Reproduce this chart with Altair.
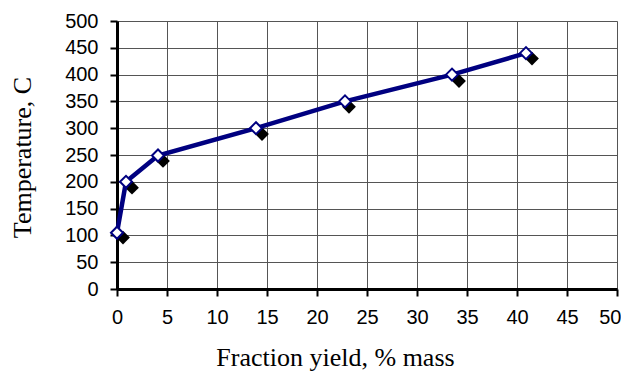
import altair as alt
import pandas as pd

# calculated / line series (white diamonds)
x_line = [0.0, 0.9, 4.1, 13.9, 22.8, 33.5, 40.9]
y_line = [105, 200, 249, 300, 350, 400, 440]
# experimental series (black diamonds)
x_exp = [0.6, 1.5, 4.6, 14.5, 23.2, 34.2, 41.5]
y_exp = [96, 189, 239, 289, 340, 388, 430]

x_ticks = list(range(0, 51, 5))
y_ticks = list(range(0, 501, 50))

df_line = pd.DataFrame({"x": x_line, "y": y_line})
df_exp = pd.DataFrame({"x": x_exp, "y": y_exp})

xs = alt.Scale(domain=[0, 50], nice=False, zero=False)
ys = alt.Scale(domain=[0, 500], nice=False, zero=False)

common = dict(
    grid=True, gridColor="#555555", gridWidth=1, gridOpacity=1,
    domainColor="black", domainWidth=3, tickColor="black", tickWidth=2,
    tickSize=7, labelFont="Liberation Sans", labelFontSize=20, labelColor="black",
    labelOverlap=False, labelFlush=False, titleFont="Liberation Serif",
    titleFontSize=26, titleFontWeight="normal", titleColor="black",
    titleBaseline="alphabetic",
)
xaxis = alt.Axis(
    values=x_ticks, title="Fraction yield, % mass",
    labelPadding=11, titleX=218, titleY=76,
    labelAlign={"condition": {"test": "datum.value == 50", "value": "right"}, "value": "center"},
    labelOffset={"condition": {"test": "datum.value == 50", "value": 4}, "value": 0},
    **common,
)
yaxis = alt.Axis(values=y_ticks, title="Temperature, C",
                 labelPadding=12, titleX=-87, titleY=136, titleAngle=270, **common)

enc = dict(
    x=alt.X("x:Q", scale=xs, axis=xaxis),
    y=alt.Y("y:Q", scale=ys, axis=yaxis),
)

exp_pts = alt.Chart(df_exp).mark_point(
    shape="diamond", filled=True, size=190, color="black", opacity=1
).encode(**enc)

line = alt.Chart(df_line).mark_line(color="#000080", strokeWidth=4.5).encode(**enc)

pts = alt.Chart(df_line).mark_point(
    shape="diamond", filled=True, size=144, fill="white", stroke="#000080",
    strokeWidth=2, opacity=1
).encode(**enc)

chart = alt.layer(exp_pts, line, pts).properties(
    width=500, height=268,
    autosize=alt.AutoSizeParams(type="none"),
    padding={"left": 109, "top": 13, "right": 4, "bottom": 84},
).configure_view(stroke=None).configure(background="white")

chart.save("out.html", embed_options={"renderer": "svg", "actions": False})
